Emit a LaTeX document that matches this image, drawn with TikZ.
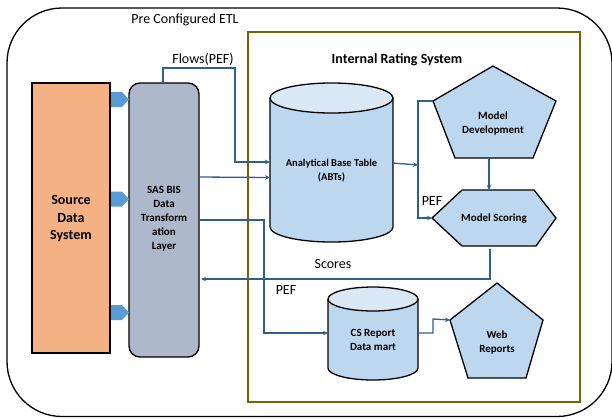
\documentclass[tikz,border=0pt]{standalone}
\usepackage{fontspec}
\setmainfont{Carlito}
\usetikzlibrary{arrows.meta,calc}
\definecolor{srcfill}{HTML}{F4B183}
\definecolor{sasfill}{HTML}{ADB9CA}
\definecolor{bluefill}{HTML}{BDD7EE}
\definecolor{toptint}{HTML}{DAE8F5}
\definecolor{arrowblue}{HTML}{5B9BD5}
\definecolor{linkblue}{HTML}{2F5F8C}
\definecolor{irsgold}{HTML}{7F6000}
\tikzset{
  shapeline/.style={draw=black, line width=1.3pt},
  link/.style={draw=linkblue, line width=1.3pt},
  linkarrow/.style={link, -{Stealth[length=5pt,width=4.5pt]}},
  lbl/.style={font=\fontsize{14}{16}\selectfont, inner sep=0pt},
  boxtext/.style={font=\fontsize{11}{14}\selectfont\bfseries, align=center, inner sep=0pt},
  frame/.style={inner sep=0pt, outer sep=0pt},
  flowtip/.style={fill=arrowblue, draw=none}
}
\begin{document}
\begin{tikzpicture}[x=1pt,y=-1pt]
\useasboundingbox (0,0) rectangle (612,418);
% outer ETL frame
\draw[line width=1.3pt, rounded corners=55pt] (7,8) rectangle (612,416.5);
\node[lbl] (etl) at (185,20) {Pre Configured ETL};
% internal rating system frame
\draw[draw=irsgold, line width=1.4pt] (248,32) rectangle (580,402);
\node[lbl, font=\fontsize{14}{16}\selectfont\bfseries] (irs) at (397,60) {Internal Rating System};

% source data system
\node[shapeline, fill=srcfill, frame, minimum width=78pt, minimum height=270pt] (src) at (71,218) {};
\node[boxtext, font=\fontsize{14}{17.5}\selectfont\bfseries] (srct) at (71,219) {Source\\Data\\System};
% SAS BIS layer
\node[shapeline, fill=sasfill, frame, rounded corners=11pt, minimum width=70pt, minimum height=274pt] (sas) at (164,220) {};
\node[boxtext] (sast) at (164,219) {SAS BIS\\Data\\Transform\\ation\\Layer};
% block arrows
\foreach \yy [count=\i] in {99.5,199,312.5}{
  \coordinate (ba\i) at (111,\yy);
  \fill[flowtip] (ba\i) ++(0,-7.5) -- ++(11,0) -- ++(7,7.5) -- ++(-7,7.5) -- ++(-11,0) -- cycle;
}

% ABT cylinder
\node[frame, minimum width=123pt, minimum height=159pt] (abt) at (331.5,162.5) {};
\fill[bluefill] (abt.north west) ++(0,15) -- ($(abt.south west)+(0,-15)$) arc[start angle=180, end angle=360, x radius=61.5pt, y radius=15pt] -- ($(abt.north east)+(0,15)$) -- cycle;
\draw[shapeline] (abt.north west) ++(0,15) -- ($(abt.south west)+(0,-15)$) arc[start angle=180, end angle=360, x radius=61.5pt, y radius=15pt] -- ($(abt.north east)+(0,15)$);
\draw[shapeline, fill=toptint] ($(abt.north)+(0,15)$) ellipse[x radius=61.5pt, y radius=15pt];
\node[boxtext, font=\fontsize{10.5}{14}\selectfont\bfseries] (abtt) at (331.5,171) {Analytical Base Table\\(ABTs)};

% CS report cylinder
\node[frame, minimum width=90pt, minimum height=93pt] (cs) at (373,333.5) {};
\fill[bluefill] (cs.north west) ++(0,12) -- ($(cs.south west)+(0,-12)$) arc[start angle=180, end angle=360, x radius=45pt, y radius=12pt] -- ($(cs.north east)+(0,12)$) -- cycle;
\draw[shapeline] (cs.north west) ++(0,12) -- ($(cs.south west)+(0,-12)$) arc[start angle=180, end angle=360, x radius=45pt, y radius=12pt] -- ($(cs.north east)+(0,12)$);
\draw[shapeline, fill=toptint] ($(cs.north)+(0,12)$) ellipse[x radius=45pt, y radius=12pt];
\node[boxtext] (cst) at (373,340) {CS Report\\Data mart};

% Model development pentagon
\coordinate (mdT) at (493,66);
\coordinate (mdL) at (433,101);
\coordinate (mdR) at (556,101);
\coordinate (mdBL) at (455,158);
\coordinate (mdBR) at (533,158);
\coordinate (mdB) at (489,158);
\draw[shapeline, fill=bluefill, line join=miter] (mdT) -- (mdR) -- (mdBR) -- (mdBL) -- (mdL) -- cycle;
\node[boxtext] (mdt) at (493,124) {Model\\Development};

% Model scoring hexagon
\coordinate (msL) at (432,218);
\coordinate (msTL) at (462,190);
\coordinate (msTR) at (534,190);
\coordinate (msR) at (556,218);
\coordinate (msBR) at (536,246);
\coordinate (msBL) at (462,246);
\coordinate (msT) at (489,190);
\draw[shapeline, fill=bluefill] (msL) -- (msTL) -- (msTR) -- (msR) -- (msBR) -- (msBL) -- cycle;
\node[boxtext] (mst) at (494,219) {Model Scoring};

% Web reports pentagon
\coordinate (wrT) at (497,283);
\coordinate (wrL) at (450,320);
\coordinate (wrR) at (543,320);
\coordinate (wrBL) at (468,378);
\coordinate (wrBR) at (526,378);
\draw[shapeline, fill=bluefill] (wrT) -- (wrR) -- (wrBR) -- (wrBL) -- (wrL) -- cycle;
\node[boxtext] (wrt) at (497,342) {Web\\Reports};

% connectors
\coordinate (sasTop) at (163,83);
\draw[linkarrow] (sasTop) |- (235,68) |- ($(abt.west)+(0,-0.5)$);
\node[lbl] (flows) at (203,59) {Flows(PEF)};
\draw[linkarrow] (sas.east |- 0,177) -- (abt.west |- 0,177.5);
\draw[linkarrow] (sas.east |- 0,220) -| (264,333) -- (cs.west |- 0,333);
\node[lbl] (pef1) at (286,290) {PEF};
\coordinate (msBot) at (490,249);
\draw[linkarrow] (msBot) |- ($(sas.east |- 0,279)+(2,0)$);
\node[lbl] (scores) at (333,264) {Scores};
\coordinate (jn) at (418,165);
\draw[linkarrow] (abt.east |- 0,163) -- (jn);
\draw[link] (mdL) -| (418,218);
\draw[linkarrow] (418,217) |- (msL);
\node[lbl] (pef2) at (432,201) {PEF};
\draw[linkarrow] (mdB) -- (msT);
\draw[linkarrow] (cs.east |- 0,333) -| (433,319) -- (wrL);
\end{tikzpicture}
\end{document}
